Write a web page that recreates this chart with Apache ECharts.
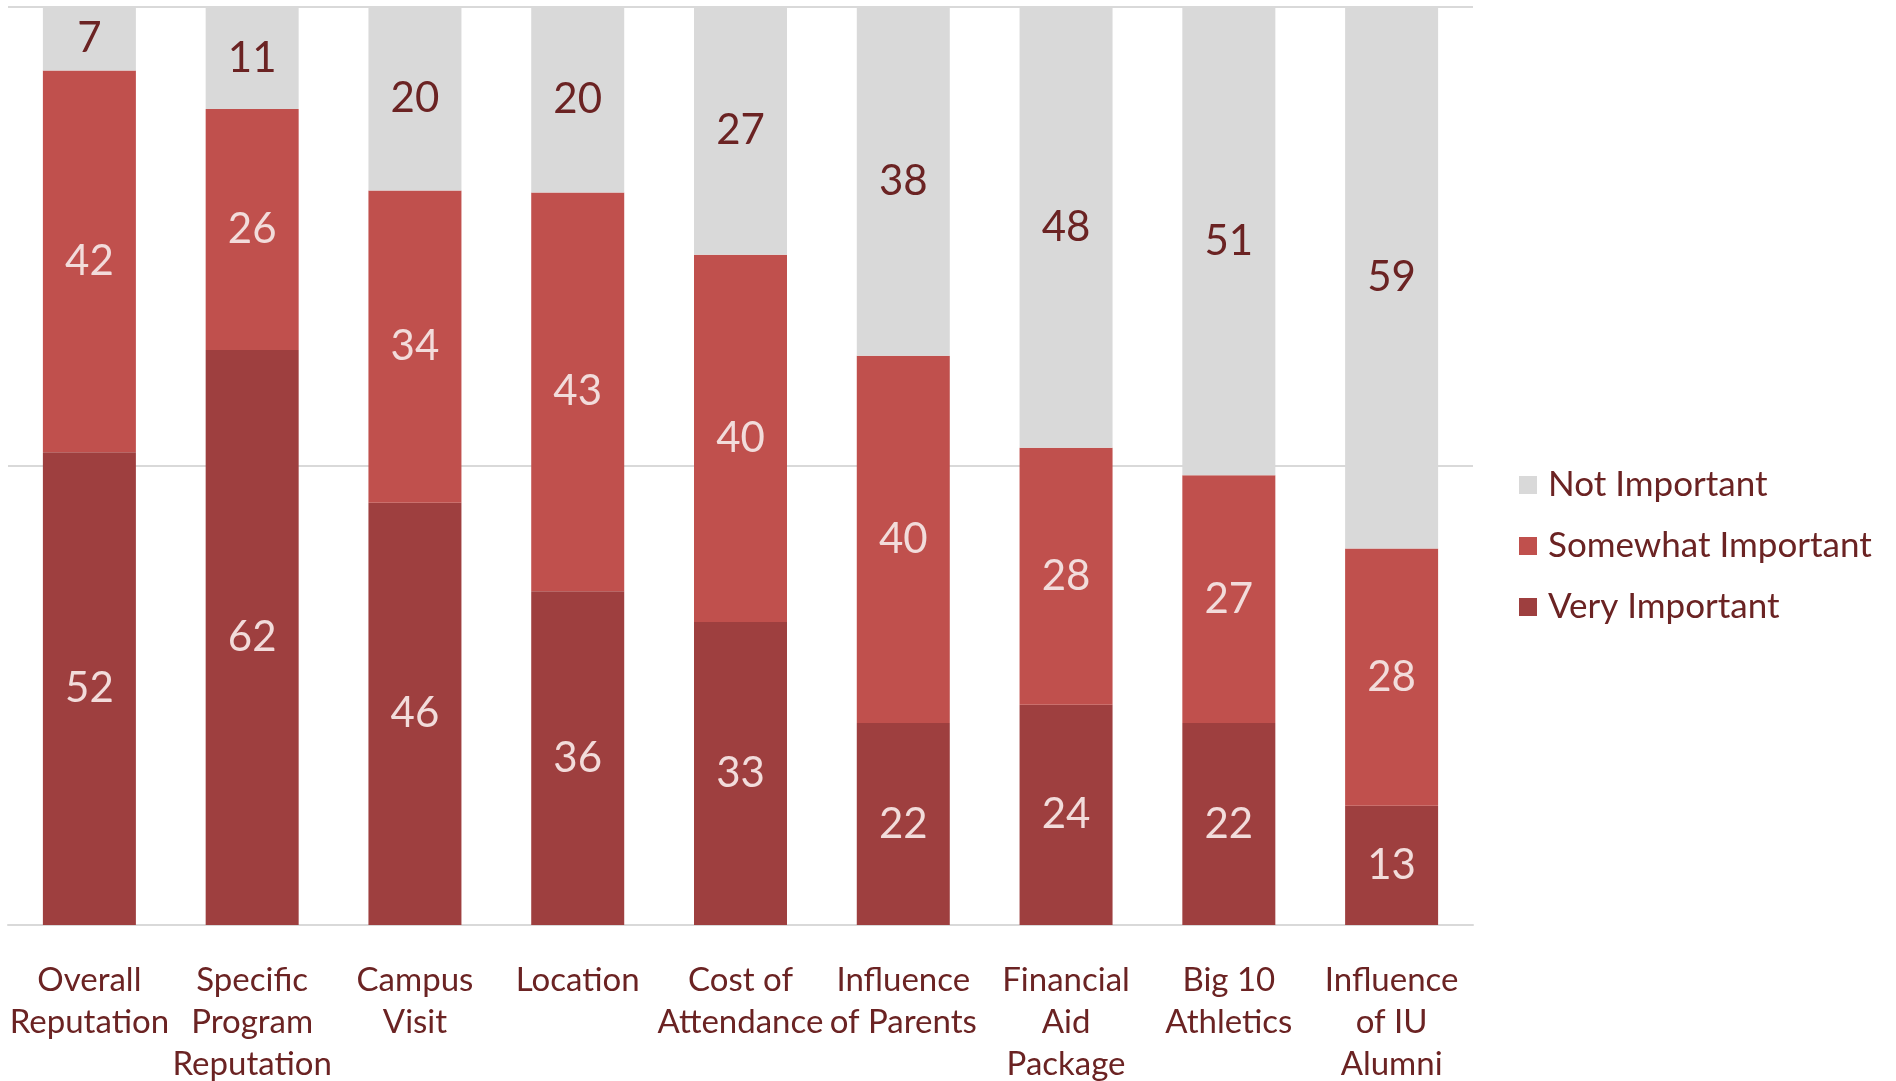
<!DOCTYPE html>
<html>
<head>
<meta charset="utf-8">
<script src="https://cdn.jsdelivr.net/npm/echarts@6/dist/echarts.min.js"></script>
<style>
  html, body { margin: 0; padding: 0; background: #fff; }
  #chart { width: 1896px; height: 1081px; }
</style>
</head>
<body>
<div id="chart"></div>
<script>
const categories = [
  'Overall\nReputation', 'Specific\nProgram\nReputation', 'Campus\nVisit', 'Location',
  'Cost of\nAttendance', 'Influence\nof Parents', 'Financial\nAid\nPackage',
  'Big 10\nAthletics', 'Influence\nof IU\nAlumni'
]
const veryImportant = [52, 62, 46, 36, 33, 22, 24, 22, 13]
const somewhatImportant = [42, 26, 34, 43, 40, 40, 28, 27, 28]
const notImportant = [7, 11, 20, 20, 27, 38, 48, 51, 59]

const FONT = 'Lato'
const TEXT = '#6b2323'

// 100% stacked: each column is scaled to its total, labels keep the raw value
const totals = categories.map((_, i) => veryImportant[i] + somewhatImportant[i] + notImportant[i])
const toPercent = (arr) => arr.map((v, i) => ({ value: (v / totals[i]) * 100, raw: v }))

function makeSeries(name, arr, color, labelColor) {
  return {
    name: name,
    type: 'bar',
    stack: 'total',
    barWidth: 93,
    itemStyle: { color: color },
    label: {
      show: true,
      position: 'inside',
      color: labelColor,
      fontFamily: FONT,
      fontSize: 42,
      formatter: (p) => p.data.raw,
    },
    emphasis: { disabled: true },
    data: toPercent(arr),
  }
}

const chart = echarts.init(document.getElementById('chart'))

chart.setOption({
  animation: false,
  grid: { left: 8, right: 423, top: 7, bottom: 156, containLabel: false, outerBoundsMode: 'none' },
  legend: {
    orient: 'vertical',
    left: 1514,
    top: 461,
    itemWidth: 18,
    itemHeight: 18,
    itemGap: 23,
    icon: 'rect',
    data: ['Not Important', 'Somewhat Important', 'Very Important'],
    textStyle: { fontFamily: FONT, fontSize: 35, lineHeight: 38, color: TEXT, padding: [0, 0, 0, 6] },
  },
  xAxis: {
    type: 'category',
    data: categories,
    axisLine: { lineStyle: { color: '#d9d9d9', width: 2 } },
    axisTick: { show: false },
    axisLabel: {
      interval: 0,
      margin: 34,
      fontFamily: FONT,
      fontSize: 33,
      lineHeight: 42,
      color: TEXT,
      verticalAlign: 'top',
    },
  },
  yAxis: {
    type: 'value',
    min: 0,
    max: 100,
    interval: 50,
    axisLabel: { show: false },
    axisLine: { show: false },
    axisTick: { show: false },
    splitLine: { lineStyle: { color: '#d9d9d9', width: 2 } },
  },
  series: [
    makeSeries('Very Important', veryImportant, '#9e3f3f', '#f2dcdb'),
    makeSeries('Somewhat Important', somewhatImportant, '#c0504d', '#f2dcdb'),
    makeSeries('Not Important', notImportant, '#d9d9d9', TEXT),
  ],
})
</script>
</body>
</html>
